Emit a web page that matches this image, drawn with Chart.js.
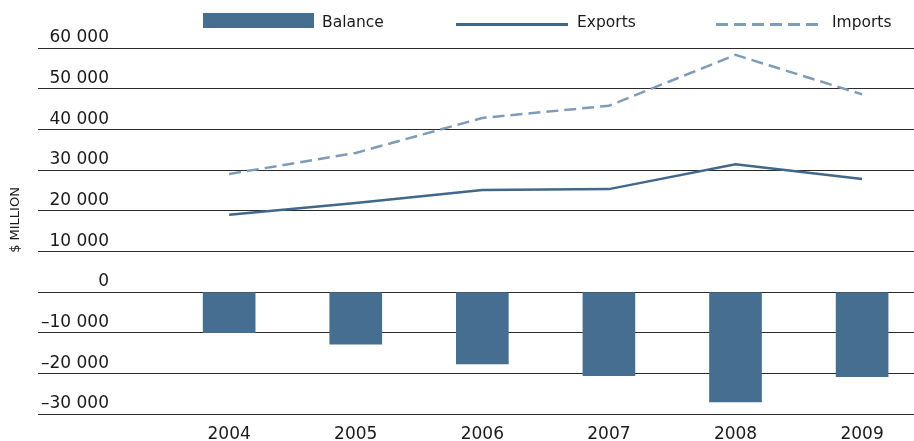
<!DOCTYPE html>
<html>
<head>
<meta charset="utf-8">
<script src="https://cdn.jsdelivr.net/npm/chart.js@4.4.1/dist/chart.umd.min.js"></script>
<style>
  html, body { margin: 0; padding: 0; background: #fff; }
  #wrap { position: relative; width: 914px; height: 441px; }
</style>
</head>
<body>
<div id="wrap"><canvas id="tradeChart"></canvas></div>
<script>
// Trade figures, $ million
var years = [2004, 2005, 2006, 2007, 2008, 2009];
var exportsValues = [19000, 21900, 25100, 25300, 31400, 27800];
var importsValues = [29000, 34200, 42800, 45800, 58300, 48600];
var balanceValues = [-10000, -12800, -17700, -20600, -27000, -20800];
var yTicks = [-30000, -20000, -10000, 0, 10000, 20000, 30000, 40000, 50000, 60000];

var barColor = '#466e90';
var exportsColor = '#41678a';
var importsColor = '#7e9cb7';
var textColor = '#1a1a1a';
var fontFamily = '"DejaVu Sans", sans-serif';

function toPoints(values) {
    var pts = [];
    for (var i = 0; i < years.length; i++) {
        pts.push({ x: years[i], y: values[i] });
    }
    return pts;
}

function formatThousands(v) {
    var s = Math.abs(v).toString().replace(/\B(?=(\d{3})+(?!\d))/g, ' ');
    return v < 0 ? '\u2013' + s : s;
}

// legend across the top and the unit label on the left
var decorations = {
    id: 'decorations',
    afterDraw: function (chart) {
        var c = chart.ctx;
        c.save();
        c.fillStyle = textColor;
        c.font = '15.5px ' + fontFamily;
        c.textBaseline = 'alphabetic';

        c.fillStyle = barColor;
        c.fillRect(203, 13, 111, 15);
        c.fillStyle = textColor;
        c.fillText('Balance', 322, 27);

        c.strokeStyle = exportsColor;
        c.lineWidth = 3;
        c.beginPath();
        c.moveTo(456, 24.5);
        c.lineTo(568, 24.5);
        c.stroke();
        c.fillText('Exports', 577, 27);

        c.strokeStyle = importsColor;
        c.setLineDash([12, 6]);
        c.beginPath();
        c.moveTo(716, 24.5);
        c.lineTo(824, 24.5);
        c.stroke();
        c.setLineDash([]);
        c.fillText('Imports', 832, 27);

        c.translate(15.5, 220);
        c.rotate(-Math.PI / 2);
        c.font = '13px ' + fontFamily;
        c.textAlign = 'center';
        c.textBaseline = 'middle';
        c.fillText('$ MILLION', 0, 0);
        c.restore();
    }
};

new Chart(document.getElementById('tradeChart'), {
    type: 'bar',
    data: {
        datasets: [{
            type: 'line',
            label: 'Exports',
            data: toPoints(exportsValues),
            borderColor: exportsColor,
            borderWidth: 2.5,
            pointRadius: 0,
            tension: 0,
            order: 1
        }, {
            type: 'line',
            label: 'Imports',
            data: toPoints(importsValues),
            borderColor: importsColor,
            borderWidth: 2.5,
            borderDash: [12, 6],
            pointRadius: 0,
            tension: 0,
            order: 1
        }, {
            type: 'bar',
            label: 'Balance',
            data: toPoints(balanceValues),
            backgroundColor: barColor,
            barThickness: 52,
            order: 2
        }]
    },
    options: {
        responsive: true,
        maintainAspectRatio: false,
        animation: false,
        layout: { padding: { left: 38, top: 48, right: 0, bottom: 0 } },
        plugins: {
            legend: { display: false },
            tooltip: { enabled: false }
        },
        scales: {
            x: {
                type: 'linear',
                offset: false,
                min: 2002.49,
                max: 2009.41,
                grid: { display: false, drawTicks: false },
                border: { display: false },
                afterBuildTicks: function (scale) {
                    scale.ticks = years.map(function (y) { return { value: y }; });
                },
                afterFit: function (scale) { scale.height = 27; },
                ticks: {
                    padding: 10,
                    color: textColor,
                    font: { family: fontFamily, size: 17 },
                    callback: function (v) { return String(v); }
                }
            },
            y: {
                min: -30000,
                max: 60000,
                afterBuildTicks: function (scale) {
                    scale.ticks = yTicks.map(function (v) { return { value: v }; });
                },
                afterFit: function (scale) { scale.width = 0; },
                grid: { color: '#2b2b2b', lineWidth: 1, drawTicks: false },
                border: { display: false },
                ticks: {
                    mirror: true,
                    crossAlign: 'far',
                    padding: 3,
                    labelOffset: -10,
                    color: textColor,
                    font: { family: fontFamily, size: 17 },
                    callback: function (v) { return formatThousands(v); }
                }
            }
        }
    },
    plugins: [decorations]
});
</script>
</body>
</html>
